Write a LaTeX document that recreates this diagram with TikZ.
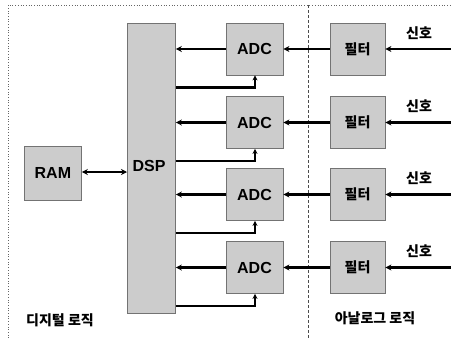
\documentclass[tikz,border=0pt]{standalone}
\usepackage{fontspec}
\setmainfont{Liberation Sans}
\newfontfamily\kr{Noto Sans CJK KR}[BoldFont={* Black}]
\usetikzlibrary{arrows.meta,calc}
\begin{document}
\begin{tikzpicture}[x=1pt,y=-1pt,
  blk/.style={draw=black!55,line width=0.8pt,fill=black!20,inner sep=0pt,font=\bfseries\fontsize{16}{16}\selectfont},
  adcbox/.style={blk,minimum width=57pt,minimum height=52pt},
  fltbox/.style={blk,minimum width=55pt,minimum height=52pt,font=\kr\bfseries\fontsize{14}{14}\selectfont},
  conn/.style={line width=2.2pt,-{Stealth[length=6pt,width=6pt]}},
  lbl/.style={font=\kr\bfseries\fontsize{14}{14}\selectfont},
  frame/.style={black!60,line width=0.7pt,dotted}]
\useasboundingbox (0,0) rectangle (451,338);
\draw[frame] (8,338) -- (8,5) -- (451,5);
\draw[frame,densely dashed,black!70] (308,5) -- (308,338);
% DSP and RAM
\node[blk,minimum width=48pt,minimum height=290pt,anchor=north west] (dsp) at (127,23) {};
\node[font=\bfseries\fontsize{16}{16}\selectfont] (dspl) at (149,166) {DSP};
\node[blk,minimum width=57pt,minimum height=54pt,anchor=north west] (ram) at (24,146) {RAM};
\draw[line width=2.2pt,{Stealth[length=6pt,width=6pt]}-{Stealth[length=6pt,width=6pt]}] (ram.east |- 0,172) coordinate (r1) -- (r1 -| dsp.west);
% rows
\foreach \i/\y in {1/49,2/122.5,3/194.5,4/267.5}{
  \node[adcbox] (adc\i) at (254.5,\y) {ADC};
  \node[fltbox] (flt\i) at (357.5,\y) {필터};
  \coordinate (sig\i) at (451,\y);
  \node[lbl] (sl\i) at (419,\y-16) {신호};
  \draw[conn] (sig\i) -- (flt\i.east);
  \draw[conn] (flt\i.west) -- (adc\i.east);
  \draw[conn] (adc\i.west) -- (adc\i.west -| dsp.east);
  \coordinate (c\i) at (255,\y+38.5);
  \draw[conn,-{Stealth[length=5pt,width=5pt]}] (c\i -| dsp.east) -- (c\i) -- (adc\i.south -| c\i);
}
\node[lbl] (dl) at (60,320) {디지털 로직};
\node[lbl] (al) at (375,318) {아날로그 로직};
\end{tikzpicture}
\end{document}
